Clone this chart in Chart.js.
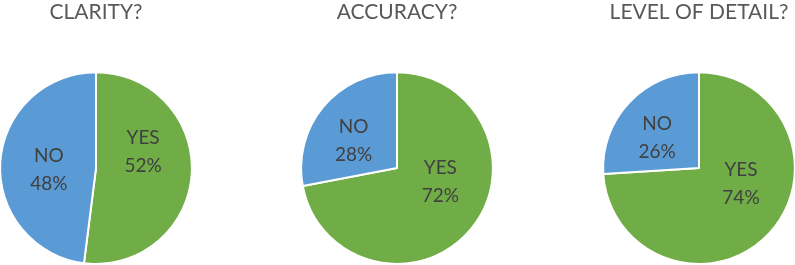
<!DOCTYPE html>
<html>
<head>
<meta charset="utf-8">
<script src="https://cdn.jsdelivr.net/npm/chart.js@4/dist/chart.umd.min.js"></script>
<style>
  html, body { margin: 0; padding: 0; background: #fff; }
  body { width: 795px; height: 265px; position: relative; overflow: hidden; }
  .pie { position: absolute; top: 0; width: 196px; height: 265px; }
</style>
</head>
<body>
<div class="pie" style="left:-2px"><canvas id="c0"></canvas></div>
<div class="pie" style="left:299px"><canvas id="c1"></canvas></div>
<div class="pie" style="left:601px"><canvas id="c2"></canvas></div>
<script>
const categories = ["YES", "NO"];
const titles = ["CLARITY?", "ACCURACY?", "LEVEL OF DETAIL?"];
const clarity = [52, 48];
const accuracy = [72, 28];
const detail = [74, 26];
const sliceColors = ["#70AD47", "#5B9BD5"];

// labels inside each slice, like excel "best fit"
const sliceLabels = {
    id: "sliceLabels",
    afterDatasetsDraw(chart) {
        const ctx = chart.ctx;
        const meta = chart.getDatasetMeta(0);
        const values = chart.data.datasets[0].data;
        ctx.save();
        ctx.font = "19px Lato";
        ctx.fillStyle = "#404040";
        ctx.textAlign = "center";
        ctx.textBaseline = "middle";
        meta.data.forEach((arc, i) => {
            const p = arc.getProps(["x", "y", "startAngle", "endAngle", "outerRadius"], true);
            const mid = (p.startAngle + p.endAngle) / 2 - 0.25;
            const r = p.outerRadius * 0.5;
            const x = p.x + Math.cos(mid) * r;
            const y = p.y + Math.sin(mid) * r - 7;
            ctx.fillText(chart.data.labels[i], x, y - 14);
            ctx.fillText(values[i] + "%", x, y + 14);
        });
        ctx.restore();
    },
};

function makePie(id, title, values) {
    new Chart(document.getElementById(id), {
        type: "pie",
        data: {
            labels: categories,
            datasets: [{
                data: values,
                backgroundColor: sliceColors,
                borderColor: "#ffffff",
                borderWidth: 2,
                hoverOffset: 0,
            }],
        },
        options: {
            responsive: true,
            maintainAspectRatio: false,
            animation: false,
            layout: { padding: 0 },
            plugins: {
                legend: { display: false },
                tooltip: { enabled: false },
                title: {
                    display: true,
                    text: title,
                    color: "#595959",
                    font: { family: "Lato", size: 21, weight: "normal" },
                    padding: { top: 0, bottom: 46 },
                },
            },
        },
        plugins: [sliceLabels],
    });
}

makePie("c0", titles[0], clarity);
makePie("c1", titles[1], accuracy);
makePie("c2", titles[2], detail);
</script>
</body>
</html>
